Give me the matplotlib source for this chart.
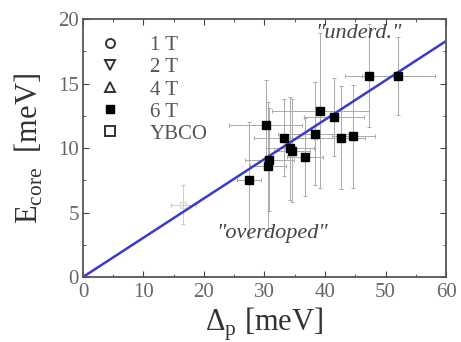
import numpy as np
import matplotlib
matplotlib.use('Agg')
import matplotlib.pyplot as plt
from matplotlib.ticker import MultipleLocator

plt.rcParams['font.family'] = ['Liberation Serif', 'DejaVu Serif']
plt.rcParams['mathtext.fontset'] = 'custom'
plt.rcParams['mathtext.rm'] = 'Liberation Serif'

# --- data ---
gap_6t = [27.5, 30.2, 30.6, 30.8, 33.2, 34.2, 34.5, 36.7, 38.3, 39.2, 41.5, 42.6, 44.7, 47.3, 52.1]
ecore_6t = [7.5, 11.8, 8.6, 9.1, 10.8, 10.0, 9.8, 9.3, 11.1, 12.9, 12.4, 10.8, 10.9, 15.6, 15.6]
gap_err_6t = [2.0, 6.0, 3.0, 4.0, 5.0, 4.0, 3.0, 3.0, 6.0, 8.0, 5.0, 4.0, 3.5, 4.0, 6.0]
ecore_err_6t = [4.5, 3.5, 5.0, 4.0, 3.0, 4.0, 4.0, 3.0, 4.0, 6.0, 3.0, 4.0, 4.0, 4.0, 3.0]

gap_ybco = [16.6]
ecore_ybco = [5.6]
gap_err_ybco = [2.0]
ecore_err_ybco = [1.5]

slope = 0.305
fit_x = [0, 60]

fig = plt.figure(figsize=(4.61, 3.42), dpi=100)
ax = fig.add_axes([0.18, 0.19, 0.7875, 0.754])

# empty series, only in the legend
ax.plot([], [], 'o', mfc='white', mec='#333333', ms=6.5, mew=1.4, label='1 T')
ax.plot([], [], 'v', mfc='white', mec='#333333', ms=7.5, mew=1.4, label='2 T')
ax.plot([], [], '^', mfc='white', mec='#333333', ms=7.5, mew=1.4, label='4 T')

ax.errorbar(gap_6t, ecore_6t, xerr=gap_err_6t, yerr=ecore_err_6t, fmt='none',
            ecolor='#aaaaaa', elinewidth=0.7, capsize=1.5, capthick=0.7, zorder=1)
ax.plot(gap_6t, ecore_6t, 's', color='black', ms=5.5, label='6 T', zorder=3)

ax.errorbar(gap_ybco, ecore_ybco, xerr=gap_err_ybco, yerr=ecore_err_ybco, fmt='none',
            ecolor='#cccccc', elinewidth=0.7, capsize=1.5, zorder=1)
ax.plot(gap_ybco, ecore_ybco, 's', mfc='none', mec='#dddddd', ms=5, zorder=2)
ax.plot([], [], 's', mfc='white', mec='#333333', ms=6.5, mew=1.4, label='YBCO')

ax.plot(fit_x, [slope * v for v in fit_x], color='#3a3acc', lw=1.8, zorder=2)

ax.text(45.5, 18.9, '"underd."', style='italic', fontsize=16, color='#444444',
        ha='center', va='center')
ax.text(31.2, 3.4, '"overdoped"', style='italic', fontsize=16, color='#444444',
        ha='center', va='center')

ax.set_xlim(0, 60)
ax.set_ylim(0, 20)
ax.xaxis.set_major_locator(MultipleLocator(10))
ax.xaxis.set_minor_locator(MultipleLocator(5))
ax.yaxis.set_major_locator(MultipleLocator(5))
ax.yaxis.set_minor_locator(MultipleLocator(2.5))
ax.tick_params(which='both', direction='in', top=True, right=True, colors='#444444',
               labelsize=15, labelcolor='#666666')
ax.tick_params(which='major', length=4)
ax.tick_params(axis='x', which='major', pad=4)
ax.tick_params(axis='y', which='major', pad=3)
ax.tick_params(which='minor', length=2)
for s in ax.spines.values():
    s.set_color('#555555')
    s.set_linewidth(1.3)

ax.set_xlabel(r'$\Delta_\mathrm{p}$ [meV]', fontsize=22, color='#333333', labelpad=3)
ax.set_ylabel(r'E$_\mathrm{core}$  [meV]', fontsize=22, color='#333333', labelpad=9)

leg = ax.legend(loc='upper left', frameon=False, fontsize=15, handletextpad=1.4,
                labelspacing=0.12, borderaxespad=0.6, borderpad=0.2,
                handlelength=1.0, labelcolor='#555555')

fig.savefig('out.png', dpi=100)
